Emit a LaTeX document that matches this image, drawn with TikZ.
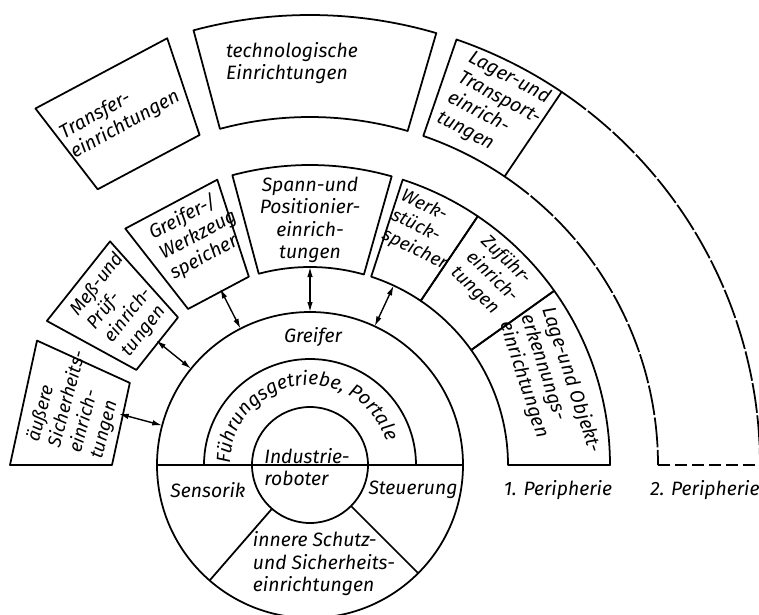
\documentclass[tikz,border=0pt]{standalone}
\usepackage{fontspec}
\setmainfont{Fira Sans}
\usepackage{tikz}
\usetikzlibrary{arrows.meta}
\usetikzlibrary{decorations.text}
\tikzset{
  ring/.style = {draw, line width=1pt},
  lbl/.style = {align=left, inner sep=0pt,
    font=\itshape\fontsize{11}{12.8}\selectfont},% Beschriftung
  klein/.style = {font=\itshape\fontsize{10.5}{12.4}\selectfont},% enge Felder
  pfeil/.style = {<->, >={Latex[length=2mm,width=1.1mm]}, line width=0.8pt},
  gestr/.style = {ring, dash pattern=on 6mm off 0.5mm},% 2. Peripherie, Bogen
  gestrb/.style = {ring, dash pattern=on 2.4mm off 1mm}% 2. Peripherie, unten
}
% Ringsegment mit Boegen: inner r, outer r, start, end
\newcommand{\segbox}[4]{%
  \draw[ring] (#3:#1) arc[start angle=#3, end angle=#4, radius=#1]
    -- (#4:#2) arc[start angle=#4, end angle=#3, radius=#2] -- cycle;}
% Ringsegment mit geraden Kanten
\newcommand{\quadbox}[4]{%
  \draw[ring] (#3:#1) -- (#4:#1) -- (#4:#2) -- (#3:#2) -- cycle;}

\begin{document}
\begin{tikzpicture}[x=0.2mm, y=0.2mm, line join=round]
\useasboundingbox (-310,-149) rectangle (449,465);

% Kern
\draw[ring] (0,0) circle[radius=153];
\draw[ring] (0,0) circle[radius=58];
\draw[ring] (106,0) arc[start angle=0, end angle=180, radius=106];
\draw[ring] (-153,0) -- (153,0);
\draw[ring] (229:58) -- (229:153);
\draw[ring] (-45:58) -- (-45:153);

% 1. Peripherie
\quadbox{198}{300}{155.5}{180}
\quadbox{198}{300}{131.8}{151.3}
\quadbox{198}{300}{108}{128}
\segbox{198}{300}{74.2}{105}
\segbox{198}{300}{56}{72}
\segbox{198}{300}{35.5}{56}
\segbox{198}{300}{0}{35.5}

% 2. Peripherie
\quadbox{348}{450}{108.5}{127.6}
\segbox{348}{450}{73.7}{105}
\segbox{348}{450}{56}{71}
\draw[gestr] (56:450) arc[start angle=56, end angle=0, radius=450];
\draw[gestr] (56:348) arc[start angle=56, end angle=0, radius=348];
\draw[gestrb] (348,0) -- (450,0);

% Pfeile
\foreach \a/\n in {165/aus, 141/mess, 117/greif, 90/spann, 65/werk} {
  \coordinate (\n-o) at (\a:198);
  \coordinate (\n-i) at (\a:153);
  \draw[pfeil] (\n-o) -- (\n-i);
}

% Texte innen
\node[lbl] (ir) at (-3,-2) {Industrie-\\roboter};
\node[lbl] (gr) at (3,128) {Greifer};
\node[lbl] (se) at (-102,-25) {Sensorik};
\node[lbl] (st) at (103,-25) {Steuerung};
\node[lbl] (is) at (14,-99) {innere Schutz-\\und Sicherheits-\\einrichtungen};
\path[decorate, decoration={text along path, text align=center,
  text={|\itshape\fontsize{11}{13}\selectfont|Führungsgetriebe, Portale}}]
  (178:80) arc[start angle=178, end angle=18, radius=80];

% Texte 1. Peripherie
\node[lbl, klein, rotate=75] (as) at (-232,63) {äußere\\Sicherheits-\\einrich-\\tungen};
\node[lbl, klein, rotate=51.5] (mp) at (-187,160) {Meß-und\\Prüf-\\einrich-\\tungen};
\node[lbl, rotate=28] (gw) at (-112,230) {Greifer-/\\Werkzeug\\speicher};
\node[lbl, align=center] (sp) at (0,245) {Spann-und\\Positionier-\\einrich-\\tungen};
\node[lbl, klein, rotate=-26] (ws) at (114,235) {Werk-\\stück-\\speicher};
\node[lbl, klein, rotate=-44] (zu) at (182,188) {Zuführ-\\einrich-\\tungen};
\node[lbl, rotate=-72] (lo) at (240,78) {Lage-und Objekt-\\erkennungs-\\einrichtungen};

% Texte 2. Peripherie
\node[lbl, rotate=29] (tr) at (-190,350) {Transfer-\\einrichtungen};
\node[lbl] (te) at (-18,402) {technologische\\Einrichtungen};
\node[lbl, rotate=-28] (lt) at (184,357) {Lager-und\\Transport-\\einrich-\\tungen};

\node[lbl] (p1) at (248,-25) {1. Peripherie};
\node[lbl] (p2) at (395,-25) {2. Peripherie};
\end{tikzpicture}
\end{document}
